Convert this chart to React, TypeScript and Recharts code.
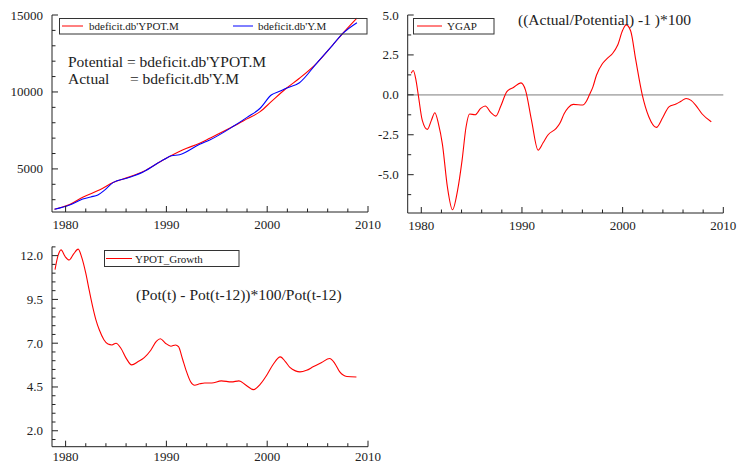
import React from 'react';
import { LineChart, Line, XAxis, YAxis, ReferenceLine } from 'recharts';

const FONT = 'Liberation Serif, DejaVu Serif, serif';
const INK = '#222';

// Potential output (bdeficit.db'YPOT.M)
const potYears = [1978.9, 1980.4, 1981.7, 1983.4, 1984.7, 1986.2, 1987.7, 1989.8, 1991.6, 1993.3, 1994.3, 1996.6, 1998.0, 1999.3, 2000.4, 2001.9, 2003.2, 2004.9, 2006.5, 2007.5, 2008.9];
const potValues = [2380, 2680, 3160, 3640, 4110, 4450, 4825, 5630, 6230, 6670, 6990, 7750, 8250, 8720, 9370, 10240, 10890, 11860, 13050, 13810, 14800];

// Actual output (bdeficit.db'Y.M)
const actYears = [1978.9, 1980.4, 1981.7, 1982.5, 1983.2, 1983.9, 1984.7, 1986.2, 1987.7, 1989.8, 1990.5, 1991.3, 1993.3, 1994.3, 1996.6, 1998.0, 1999.3, 2000.4, 2001.3, 2001.9, 2003.2, 2004.9, 2006.5, 2007.5, 2008.9];
const actValues = [2380, 2660, 3040, 3180, 3310, 3640, 4110, 4420, 4800, 5630, 5850, 5920, 6600, 6880, 7750, 8350, 8940, 9800, 10060, 10240, 10600, 11860, 13050, 13800, 14500];

// Output gap, percent
const gapYears = [1979.0, 1979.2, 1979.45, 1979.7, 1980.1, 1980.6, 1981.0, 1981.35, 1981.7, 1982.1, 1982.6, 1983.1, 1983.6, 1984.05, 1984.45, 1984.8, 1985.35, 1985.9, 1986.35, 1986.9, 1987.4, 1987.9, 1988.5, 1989.15, 1989.9, 1990.35, 1990.95, 1991.6, 1992.1, 1992.6, 1993.4, 1993.75, 1994.2, 1994.6, 1995.1, 1996.05, 1996.4, 1996.7, 1997.05, 1997.4, 1998.0, 1998.5, 1999.0, 1999.5, 2000.0, 2000.35, 2000.8, 2001.3, 2001.95, 2002.6, 2003.35, 2004.0, 2004.6, 2005.3, 2005.8, 2006.3, 2006.8, 2007.25, 2007.9, 2008.8];
const gapValues = [1.35, 1.52, 1.0, 0.0, -1.6, -2.16, -1.6, -1.12, -1.8, -3.1, -5.8, -7.2, -6.0, -4.1, -2.0, -1.2, -1.25, -0.85, -0.7, -1.1, -1.33, -0.7, 0.2, 0.46, 0.75, 0.3, -1.6, -3.46, -3.0, -2.5, -2.1, -1.8, -1.17, -0.8, -0.6, -0.64, -0.4, 0.0, 0.5, 1.23, 1.96, 2.3, 2.59, 3.1, 4.04, 4.38, 4.0, 2.2, 0.0, -1.37, -2.04, -1.4, -0.75, -0.58, -0.4, -0.23, -0.35, -0.64, -1.2, -1.69];

// Twelve-month growth of potential output, percent
const growthYears = [1978.95, 1979.2, 1979.55, 1979.95, 1980.35, 1980.8, 1981.25, 1981.6, 1982.0, 1982.35, 1982.7, 1983.0, 1983.35, 1983.8, 1984.2, 1984.6, 1985.0, 1985.5, 1986.0, 1986.55, 1987.2, 1987.8, 1988.45, 1989.0, 1989.4, 1989.9, 1990.45, 1990.9, 1991.2, 1991.6, 1991.95, 1992.4, 1992.8, 1993.3, 1993.8, 1994.5, 1995.45, 1996.45, 1997.2, 1997.9, 1998.65, 1999.3, 1999.95, 2000.6, 2001.3, 2001.8, 2002.25, 2002.8, 2003.25, 2003.9, 2004.55, 2005.4, 2006.2, 2006.7, 2007.2, 2007.9, 2008.85];
const growthValues = [11.2, 11.9, 12.33, 11.95, 11.75, 12.1, 12.37, 11.9, 11.0, 10.0, 9.05, 8.35, 7.75, 7.2, 6.95, 6.9, 7.0, 6.7, 6.15, 5.76, 5.95, 6.18, 6.6, 7.1, 7.25, 7.0, 6.83, 6.9, 6.8, 6.1, 5.45, 4.8, 4.6, 4.68, 4.73, 4.73, 4.85, 4.79, 4.85, 4.6, 4.35, 4.65, 5.17, 5.8, 6.22, 5.95, 5.62, 5.42, 5.36, 5.45, 5.65, 5.9, 6.13, 5.85, 5.36, 5.1, 5.07];

// Axis ticks (minor + labelled)
const yearTicks = [1980, 1982, 1984, 1986, 1988, 1990, 1992, 1994, 1996, 1998, 2000, 2002, 2004, 2006, 2008, 2010];
const yearLabels = [1980, 1990, 2000, 2010];
const levelTicks = [3000, 4000, 5000, 6000, 7000, 8000, 9000, 10000, 11000, 12000, 13000, 14000, 15000];
const levelLabels = [5000, 10000, 15000];
const gapTicks = [-6.25, -5, -3.75, -2.5, -1.25, 0, 1.25, 2.5, 3.75, 5];
const gapLabels = [-5, -2.5, 0, 2.5, 5];
const growthTicks = [1.5, 2, 2.5, 3, 3.5, 4, 4.5, 5, 5.5, 6, 6.5, 7, 7.5, 8, 8.5, 9, 9.5, 10, 10.5, 11, 11.5, 12, 12.5];
const growthLabels = [2, 4.5, 7, 9.5, 12];

const YEAR_DOMAIN: [number, number] = [1978.65, 2010];
const LABEL_GAP = 9;
const MAJOR_LEN = 6;
const MINOR_LEN = 3.5;

const toRows = (xs: number[], ys: number[]) => xs.map((year, i) => ({ year, value: ys[i] }));

const potRows = toRows(potYears, potValues);
const actRows = toRows(actYears, actValues);
const gapRows = toRows(gapYears, gapValues);
const growthRows = toRows(growthYears, growthValues);

const textStyle = { fontFamily: FONT, fill: INK } as const;

function makeYTick(labels: number[], fmt: (v: number) => string) {
  return (props: any) => {
    const { x, y, payload } = props;
    const major = labels.includes(payload.value);
    const ax = x + LABEL_GAP;
    return (
      <g>
        <line x1={ax} x2={ax + (major ? MAJOR_LEN : MINOR_LEN)} y1={y} y2={y} stroke={INK} strokeWidth={1} />
        {major && (
          <text x={x} y={y} dy={4.5} textAnchor="end" fontSize={13} style={textStyle}>
            {fmt(payload.value)}
          </text>
        )}
      </g>
    );
  };
}

function makeXTick(labelOffset: number) {
  return (props: any) => {
    const { x, y, payload } = props;
    const major = yearLabels.includes(payload.value);
    return (
      <g>
        <line x1={x} x2={x} y1={y} y2={y - (major ? MAJOR_LEN : MINOR_LEN)} stroke={INK} strokeWidth={1} />
        {major && (
          <text x={x} y={y + labelOffset} textAnchor="middle" fontSize={13} style={textStyle}>
            {payload.value}
          </text>
        )}
      </g>
    );
  };
}

const TopYearTick = makeXTick(17);
const BottomYearTick = makeXTick(14.5);
const LevelTick = makeYTick(levelLabels, (v) => String(v));
const GapTick = makeYTick(gapLabels, (v) => v.toFixed(1));
const GrowthTick = makeYTick(growthLabels, (v) => v.toFixed(1));

export default function App() {
  return (
    <div style={{ position: 'absolute', left: 0, top: 0, width: 743, height: 465, background: '#fff', overflow: 'hidden' }}>
      {/* Potential vs actual output */}
      <div style={{ position: 'absolute', left: 0, top: 0 }}>
        <LineChart width={395} height={240} margin={{ top: 15, right: 27, bottom: 0, left: 0 }}>
          <XAxis
            dataKey="year"
            type="number"
            domain={YEAR_DOMAIN}
            ticks={yearTicks}
            interval={0}
            allowDataOverflow
            height={28}
            tickSize={0}
            tickMargin={0}
            tickLine={false}
            axisLine={{ stroke: INK }}
            tick={<TopYearTick />}
          />
          <YAxis
            type="number"
            domain={[2200, 15000]}
            ticks={levelTicks}
            interval={0}
            allowDataOverflow
            width={52}
            tickSize={0}
            tickMargin={LABEL_GAP}
            tickLine={false}
            axisLine={{ stroke: INK }}
            tick={<LevelTick />}
          />
          <Line data={potRows} dataKey="value" type="monotone" stroke="#ff0000" strokeWidth={1.1} dot={false} isAnimationActive={false} />
          <Line data={actRows} dataKey="value" type="monotone" stroke="#0000ff" strokeWidth={1.1} dot={false} isAnimationActive={false} />
        </LineChart>
      </div>

      {/* Output gap */}
      <div style={{ position: 'absolute', left: 370, top: 0 }}>
        <LineChart width={373} height={240} margin={{ top: 15, right: 19.7, bottom: 0, left: 0 }}>
          <XAxis
            dataKey="year"
            type="number"
            domain={YEAR_DOMAIN}
            ticks={yearTicks}
            interval={0}
            allowDataOverflow
            height={27}
            tickSize={0}
            tickMargin={0}
            tickLine={false}
            axisLine={{ stroke: INK }}
            tick={<TopYearTick />}
          />
          <YAxis
            type="number"
            domain={[-7.4, 5]}
            ticks={gapTicks}
            interval={0}
            allowDataOverflow
            width={37.7}
            tickSize={0}
            tickMargin={LABEL_GAP}
            tickLine={false}
            axisLine={{ stroke: INK }}
            tick={<GapTick />}
          />
          <ReferenceLine y={0} stroke="#b4b4b4" strokeWidth={1.6} />
          <Line data={gapRows} dataKey="value" type="monotone" stroke="#ff0000" strokeWidth={1.1} dot={false} isAnimationActive={false} />
        </LineChart>
      </div>

      {/* Growth of potential output */}
      <div style={{ position: 'absolute', left: 0, top: 235 }}>
        <LineChart width={395} height={230} margin={{ top: 11.7, right: 27, bottom: 0, left: 0 }}>
          <XAxis
            dataKey="year"
            type="number"
            domain={YEAR_DOMAIN}
            ticks={yearTicks}
            interval={0}
            allowDataOverflow
            height={18.3}
            tickSize={0}
            tickMargin={0}
            tickLine={false}
            axisLine={{ stroke: INK }}
            tick={<BottomYearTick />}
          />
          <YAxis
            type="number"
            domain={[1.09, 12.51]}
            ticks={growthTicks}
            interval={0}
            allowDataOverflow
            width={52}
            tickSize={0}
            tickMargin={LABEL_GAP}
            tickLine={false}
            axisLine={{ stroke: INK }}
            tick={<GrowthTick />}
          />
          <Line data={growthRows} dataKey="value" type="monotone" stroke="#ff0000" strokeWidth={1.1} dot={false} isAnimationActive={false} />
        </LineChart>
      </div>

      {/* Legends and formula notes */}
      <svg width={743} height={465} style={{ position: 'absolute', left: 0, top: 0, pointerEvents: 'none' }}>
        <rect x={59.5} y={18.5} width={307.5} height={15.5} fill="none" stroke="#333" strokeWidth={1} />
        <line x1={62} x2={83} y1={26} y2={26} stroke="#ff0000" strokeWidth={1} />
        <text x={89} y={30} fontSize={11} style={textStyle}>bdeficit.db'YPOT.M</text>
        <line x1={233} x2={253} y1={26} y2={26} stroke="#0000ff" strokeWidth={1} />
        <text x={258} y={30} fontSize={11} style={textStyle}>bdeficit.db'Y.M</text>
        <text x={68} y={67} fontSize={15.5} style={textStyle}>Potential = bdeficit.db'YPOT.M</text>
        <text x={68} y={83.5} fontSize={15.5} style={textStyle}>Actual</text>
        <text x={130} y={83.5} fontSize={15.5} style={textStyle}>= bdeficit.db'Y.M</text>

        <rect x={413.5} y={18.5} width={80.5} height={15.5} fill="none" stroke="#333" strokeWidth={1} />
        <line x1={417} x2={442} y1={26} y2={26} stroke="#ff0000" strokeWidth={1} />
        <text x={447} y={30} fontSize={11} style={textStyle}>YGAP</text>
        <text x={518} y={25} fontSize={15.5} style={textStyle}>((Actual/Potential) -1 )*100</text>

        <rect x={104.5} y={250.5} width={134.5} height={16} fill="none" stroke="#333" strokeWidth={1} />
        <line x1={106} x2={132} y1={258.5} y2={258.5} stroke="#ff0000" strokeWidth={1} />
        <text x={135} y={262.5} fontSize={11} style={textStyle}>YPOT_Growth</text>
        <text x={136} y={300} fontSize={15.5} style={textStyle}>(Pot(t) - Pot(t-12))*100/Pot(t-12)</text>
      </svg>
    </div>
  );
}
